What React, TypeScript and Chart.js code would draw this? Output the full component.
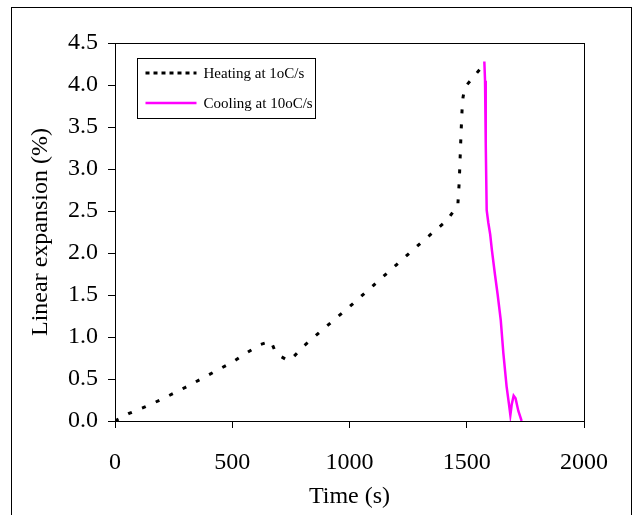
import React, { useEffect, useRef } from "react";
import { Chart, registerables } from "chart.js";

Chart.register(...registerables);

const heatTime = [0, 60, 130, 200, 300, 400, 500, 560, 620, 665, 680, 700, 738, 760, 800, 870, 1000, 1100, 1200, 1300, 1416, 1462, 1468, 1472, 1476, 1480, 1484, 1490, 1500, 1545, 1575];
const heatExp = [0, 0.09, 0.17, 0.26, 0.4, 0.55, 0.7, 0.81, 0.91, 0.95, 0.85, 0.78, 0.72, 0.76, 0.88, 1.05, 1.36, 1.61, 1.86, 2.11, 2.39, 2.57, 2.85, 3.15, 3.45, 3.7, 3.85, 3.95, 4.0, 4.15, 4.25];

const coolTime = [1575, 1578, 1581, 1585, 1592, 1600, 1607, 1620, 1632, 1645, 1656, 1670, 1680, 1686, 1692, 1700, 1708, 1720, 1734];
const coolExp = [4.28, 4.05, 3.3, 2.51, 2.36, 2.22, 2.04, 1.75, 1.5, 1.2, 0.81, 0.41, 0.2, 0.07, 0.2, 0.3, 0.27, 0.12, 0.0];

const seriesLabels = ["Heating at 1oC/s", "Cooling at 10oC/s"];
const xTitle = "Time (s)";
const yTitle = "Linear expansion (%)";

const FONT = "'Liberation Serif', 'Times New Roman', serif";

const framePlugin = {
  id: "framePlugin",
  beforeDraw(chart: any) {
    const ctx = chart.ctx;
    ctx.save();
    ctx.fillStyle = "#fff";
    ctx.fillRect(0, 0, chart.width, chart.height);
    ctx.strokeStyle = "#000";
    ctx.lineWidth = 1;
    ctx.strokeRect(11.5, 7.5, 620, 530);
    ctx.restore();
  },
  afterDraw(chart: any) {
    const ctx = chart.ctx;
    const a = chart.chartArea;
    ctx.save();
    ctx.strokeStyle = "#000";
    ctx.lineWidth = 1;
    ctx.strokeRect(Math.round(a.left) + 0.5, Math.round(a.top) + 0.5, Math.round(a.right - a.left), Math.round(a.bottom - a.top));
    // legend
    const bx = a.left + 22.5;
    const by = a.top + 15.5;
    ctx.fillStyle = "#fff";
    ctx.fillRect(bx, by, 178, 60);
    ctx.strokeStyle = "#000";
    ctx.strokeRect(bx, by, 178, 60);
    const ds = chart.data.datasets;
    const rows = [by + 14.5, by + 44.5];
    for (let i = 0; i < ds.length; i++) {
      ctx.save();
      ctx.strokeStyle = ds[i].borderColor;
      ctx.lineWidth = ds[i].borderWidth;
      ctx.setLineDash(i === 0 ? [4, 4] : []);
      ctx.beginPath();
      ctx.moveTo(bx + 8, rows[i]);
      ctx.lineTo(bx + 59, rows[i]);
      ctx.stroke();
      ctx.restore();
      ctx.fillStyle = "#000";
      ctx.font = `15px ${FONT}`;
      ctx.textBaseline = "middle";
      ctx.textAlign = "left";
      ctx.fillText(ds[i].label, bx + 66, rows[i] + 1);
    }
    ctx.restore();
  },
};

export default function App() {
  const ref = useRef<HTMLCanvasElement>(null);
  useEffect(() => {
    if (!ref.current) return;
    const heat = heatTime.map((t, i) => ({ x: t, y: heatExp[i] }));
    const cool = coolTime.map((t, i) => ({ x: t, y: coolExp[i] }));
    const chart = new Chart(ref.current, {
      type: "scatter",
      data: {
        datasets: [
          {
            label: seriesLabels[0],
            data: heat,
            showLine: true,
            borderColor: "#000000",
            backgroundColor: "#000000",
            borderWidth: 3,
            borderDash: [4, 11],
            pointRadius: 0,
            tension: 0,
          },
          {
            label: seriesLabels[1],
            data: cool,
            showLine: true,
            borderColor: "#FF00FF",
            backgroundColor: "#FF00FF",
            borderWidth: 2.5,
            pointRadius: 0,
            tension: 0,
          },
        ],
      },
      options: {
        responsive: false,
        animation: false,
        layout: { padding: { left: 0, top: 43, right: 50, bottom: 0 } },
        plugins: { legend: { display: false }, tooltip: { enabled: false } },
        scales: {
          x: {
            type: "linear",
            min: 0,
            max: 2000,
            ticks: { stepSize: 500, color: "#000", font: { family: FONT, size: 24 }, padding: 20, maxRotation: 0, callback: (v: any) => String(v) },
            grid: { drawOnChartArea: false, drawTicks: true, tickLength: 7, color: "#000" },
            border: { display: false },
            title: { display: true, text: xTitle, color: "#000", font: { family: FONT, size: 24 }, padding: { top: 0, bottom: 4 } },
            afterFit: (s: any) => { s.height = 94; },
          },
          y: {
            type: "linear",
            min: 0,
            max: 4.5,
            ticks: { stepSize: 0.5, color: "#000", font: { family: FONT, size: 24 }, padding: 10, callback: (v: any) => Number(v).toFixed(1) },
            grid: { drawOnChartArea: false, drawTicks: true, tickLength: 7, color: "#000" },
            border: { display: false },
            title: { display: true, text: yTitle, color: "#000", font: { family: FONT, size: 24 }, padding: { top: 26, bottom: 0 } },
            afterFit: (s: any) => { s.width = 115; },
          },
        },
      },
      plugins: [framePlugin],
    });
    return () => chart.destroy();
  }, []);
  return (
    <div style={{ position: "absolute", left: 0, top: 0, width: 634, height: 515 }}>
      <canvas ref={ref} width={634} height={515} style={{ display: "block" }} />
    </div>
  );
}
